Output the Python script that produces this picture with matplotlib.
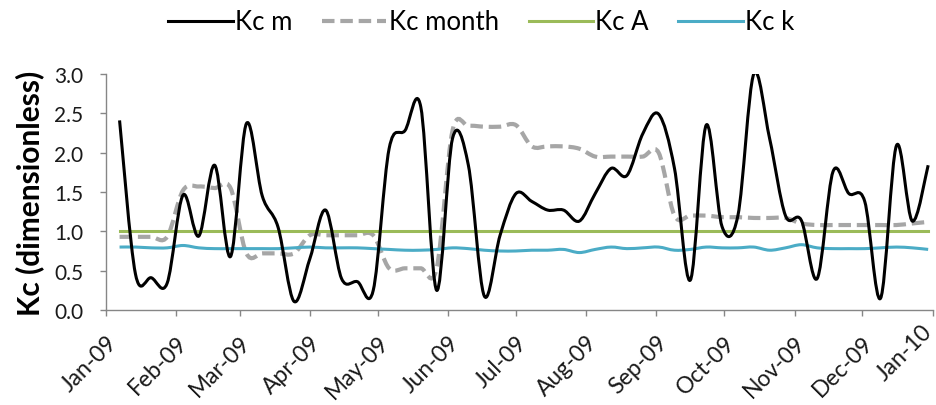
import matplotlib
matplotlib.use("Agg")
import matplotlib.pyplot as plt
import matplotlib.dates as mdates
from matplotlib.path import Path
from matplotlib.patches import PathPatch
from matplotlib.lines import Line2D
from matplotlib.transforms import ScaledTranslation
import pandas as pd

plt.rcParams['font.family'] = ['Lato', 'DejaVu Sans']

# weekly sampling dates through 2009
dates = pd.date_range('2009-01-07', periods=52, freq='7D')

kc_m = [2.41, 0.46, 0.41, 0.34, 1.46, 0.94, 1.84, 0.68, 2.37, 1.45,
        1.05, 0.11, 0.65, 1.27, 0.40, 0.36, 0.25, 2.05, 2.28, 2.58,
        0.25, 2.18, 1.84, 0.18, 0.95, 1.48, 1.38, 1.27, 1.27, 1.13,
        1.48, 1.80, 1.71, 2.24, 2.49, 1.80, 0.38, 2.35, 1.06, 1.20,
        3.00, 2.18, 1.20, 1.14, 0.40, 1.76, 1.48, 1.38, 0.15, 2.09,
        1.13, 1.84]

kc_month = [0.93, 0.93, 0.93, 0.93, 1.52, 1.57, 1.55, 1.55, 0.72, 0.72,
            0.72, 0.72, 0.95, 0.95, 0.95, 0.95, 0.95, 0.53, 0.53, 0.53,
            0.53, 2.28, 2.34, 2.33, 2.33, 2.35, 2.08, 2.08, 2.08, 2.05,
            1.95, 1.95, 1.95, 1.95, 2.00, 1.20, 1.20, 1.20, 1.18, 1.18,
            1.17, 1.17, 1.17, 1.10, 1.08, 1.08, 1.08, 1.08, 1.08, 1.08,
            1.10, 1.12]

kc_a = [1.0] * 52

kc_k = [0.80, 0.80, 0.79, 0.79, 0.82, 0.79, 0.78, 0.78, 0.78, 0.78,
        0.78, 0.79, 0.80, 0.79, 0.79, 0.79, 0.78, 0.77, 0.76, 0.76,
        0.77, 0.79, 0.78, 0.76, 0.75, 0.75, 0.76, 0.76, 0.77, 0.73,
        0.77, 0.80, 0.78, 0.79, 0.80, 0.76, 0.77, 0.80, 0.79, 0.79,
        0.80, 0.76, 0.79, 0.83, 0.79, 0.78, 0.78, 0.78, 0.79, 0.80,
        0.79, 0.77]

labels = ['Kc m', 'Kc month', 'Kc A', 'Kc k']
colors = ['black', '#A6A6A6', '#9BBB59', '#4BACC6']


def smooth_path(x, y):
    # Catmull-Rom style bezier through every point (like a smoothed spreadsheet line)
    n = len(x)
    verts = [(x[0], y[0])]
    codes = [Path.MOVETO]
    for i in range(n - 1):
        xa, ya = (x[i - 1], y[i - 1]) if i > 0 else (x[i], y[i])
        xd, yd = (x[i + 2], y[i + 2]) if i + 2 < n else (x[i + 1], y[i + 1])
        c1 = (x[i] + (x[i + 1] - xa) / 6, y[i] + (y[i + 1] - ya) / 6)
        c2 = (x[i + 1] - (xd - x[i]) / 6, y[i + 1] - (yd - y[i]) / 6)
        verts += [c1, c2, (x[i + 1], y[i + 1])]
        codes += [Path.CURVE4] * 3
    return Path(verts, codes)


xs = mdates.date2num(dates.to_pydatetime())

fig = plt.figure(figsize=(9.37, 4.06), dpi=100)
ax = fig.add_axes([0.1131, 0.234, 0.8823, 0.5813])

dash = (0, (3, 1.4))
ax.add_patch(PathPatch(smooth_path(xs, kc_month), fill=False, edgecolor=colors[1],
                       lw=3.0, linestyle=dash, zorder=2))
ax.plot(dates, kc_a, color=colors[2], lw=2.2, zorder=3)
ax.add_patch(PathPatch(smooth_path(xs, kc_k), fill=False, edgecolor=colors[3],
                       lw=2.2, zorder=3))
ax.add_patch(PathPatch(smooth_path(xs, kc_m), fill=False, edgecolor=colors[0],
                       lw=2.2, zorder=4, joinstyle='round'))

ax.set_xlim(mdates.date2num(pd.Timestamp('2009-01-01')),
            mdates.date2num(pd.Timestamp('2010-01-01')))
ax.set_ylim(0, 3.0)

ax.xaxis.set_major_locator(mdates.MonthLocator())
ax.xaxis.set_major_formatter(mdates.DateFormatter('%b-%y'))
ax.set_yticks([0, 0.5, 1.0, 1.5, 2.0, 2.5, 3.0])
ax.yaxis.set_major_formatter(matplotlib.ticker.FormatStrFormatter('%.1f'))

for side in ['top', 'right']:
    ax.spines[side].set_visible(False)
for side in ['left', 'bottom']:
    ax.spines[side].set_color('#868686')
    ax.spines[side].set_linewidth(1.0)

ax.tick_params(axis='both', colors='#868686', labelcolor='#1a1a1a',
               length=4.5, width=1.0)
ax.tick_params(axis='y', pad=12, labelsize=15)
ax.tick_params(axis='x', pad=11, labelsize=16.5)
xlabels = ax.get_xticklabels()
for lab in xlabels:
    lab.set_rotation(45)
    lab.set_ha('right')
    lab.set_va('top')
    lab.set_rotation_mode('anchor')
# slide the last month label back along its own slant so it stays on the canvas
xlabels[-1].set_transform(xlabels[-1].get_transform()
                          + ScaledTranslation(-8 / 72, 8 / 72, fig.dpi_scale_trans))

ax.set_ylabel('Kc (dimensionless)', fontsize=21.5, fontweight='bold', labelpad=7)

handles = [
    Line2D([], [], color=colors[0], lw=2.2),
    Line2D([], [], color=colors[1], lw=3.0, linestyle=dash),
    Line2D([], [], color=colors[2], lw=2.2),
    Line2D([], [], color=colors[3], lw=2.2),
]
fig.legend(handles, labels, loc='center', bbox_to_anchor=(481.5 / 937, 1 - 23 / 406),
           ncol=4, frameon=False, fontsize=18.5, handlelength=2.5,
           handletextpad=0.1, columnspacing=1.15)

fig.savefig('out.png', dpi=100)
